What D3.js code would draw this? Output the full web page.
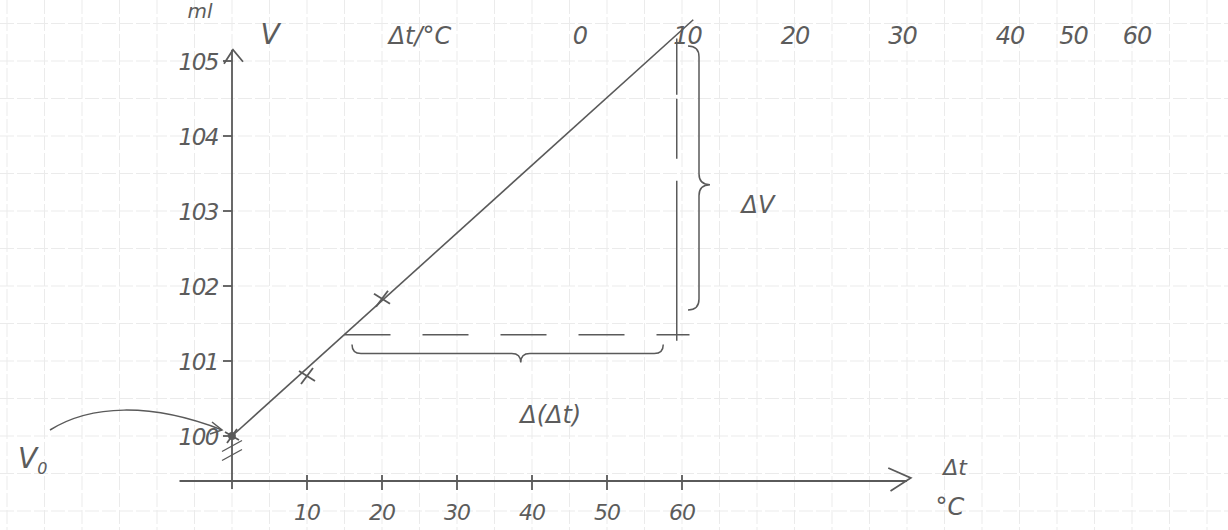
<!DOCTYPE html>
<html>
<head>
<meta charset="utf-8">
<script src="https://cdn.jsdelivr.net/npm/d3@7"></script>
<style>
  body { margin: 0; background: #fff; }
  svg text { font-family: "DejaVu Sans", sans-serif; font-weight: 200; font-style: italic; fill: #5c5c5c; }
</style>
</head>
<body>
<svg id="chart"></svg>
<script>
// --- Data ---
const xTicks = [10, 20, 30, 40, 50, 60];          // Δt in °C
const yTicks = [100, 101, 102, 103, 104, 105];    // V in ml
const measured = [
  { t: 0, V: 100 },
  { t: 10, V: 100.8 },
  { t: 20, V: 101.83 }
];
const fitLine = [{ t: 0, V: 100 }, { t: 61.5, V: 105.55 }];
const topLabels = [0, 10, 20, 30, 40, 50, 60];
// annotation values (data units)
const dashLevel = { V: 101.35, from: 15, to: 61 };
const dropLine = { t: 59.3, from: 101.27, to: 105.3 };
const braceV = { t: 60.8, from: 101.68, to: 105.2, tip: 103.35 };
const braceT = { V: 101.22, from: 16, to: 57.5, tip: 38.5 };

const width = 1228, height = 530;
const svg = d3.select("#chart").attr("width", width).attr("height", height);

// --- Scales ---
const x = d3.scaleLinear().domain([0, 60]).range([232, 682]);
const y = d3.scaleLinear().domain([100, 105]).range([436, 61]);
const xAxisV = 99.4; // broken axis, x axis sits below 100
const topX = d3.scaleLinear().domain([0, 40, 60]).range([580, 1010, 1137]);

const ink = "#5a5a5a";

// --- Grid paper ---
const grid = svg.append("g").attr("stroke", "#ebebeb").attr("stroke-width", 1)
  .attr("stroke-dasharray", "14,3");
grid.selectAll(".gx").data(d3.range(-30, 135, 5)).join("line")
  .attr("x1", d => x(d)).attr("x2", d => x(d)).attr("y1", 0).attr("y2", height);
grid.selectAll(".gy").data(d3.range(98.5, 106.5, 0.5)).join("line")
  .attr("y1", d => y(d)).attr("y2", d => y(d)).attr("x1", 0).attr("x2", width);

// --- Axes ---
const axes = svg.append("g").attr("stroke", ink).attr("stroke-width", 1.8).attr("fill", "none");
axes.append("line").attr("x1", x(0)).attr("x2", x(0)).attr("y1", y(xAxisV) + 8).attr("y2", y(105.15));
axes.append("path").attr("d", `M${x(0) - 8},${y(105.15) + 14} L${x(0) + 1},${y(105.15)} L${x(0) + 11},${y(105.15) + 12}`);
axes.append("line").attr("x1", x(-7)).attr("x2", x(90)).attr("y1", y(xAxisV)).attr("y2", y(xAxisV));
axes.append("path").attr("d", `M${x(87.5)},${y(xAxisV) - 13} L${x(90.5)},${y(xAxisV) - 3} L${x(87.8)},${y(xAxisV) + 10}`);

// break marks on the V axis
[99.74, 99.86].forEach(v => {
  axes.append("line").attr("stroke-width", 1.4)
    .attr("x1", x(0) - 10).attr("y1", y(v) + 5).attr("x2", x(0) + 10).attr("y2", y(v) - 6);
});

// y ticks
axes.selectAll(".yt").data(yTicks).join("line")
  .attr("x1", x(0) - 9).attr("x2", x(0)).attr("y1", d => y(d)).attr("y2", d => y(d));
svg.selectAll(".yl").data(yTicks).join("text")
  .attr("x", x(0) - 14).attr("y", d => y(d) + 9).attr("text-anchor", "end")
  .attr("font-size", 23).attr("letter-spacing", -1.5).text(d => d);

// x ticks
axes.selectAll(".xt").data(xTicks).join("line")
  .attr("x1", d => x(d)).attr("x2", d => x(d)).attr("y1", y(xAxisV) - 6).attr("y2", y(xAxisV) + 9);
svg.selectAll(".xl").data(xTicks).join("text")
  .attr("x", d => x(d)).attr("y", y(xAxisV) + 39).attr("text-anchor", "middle")
  .attr("font-size", 22).attr("letter-spacing", -1).text(d => d);

// axis titles
svg.append("text").attr("x", 200).attr("y", 18).attr("font-size", 20).attr("text-anchor", "middle").text("ml");
svg.append("text").attr("x", 270).attr("y", 44).attr("font-size", 28).attr("text-anchor", "middle").text("V");
svg.append("text").attr("x", 955).attr("y", y(xAxisV) - 6).attr("font-size", 22).attr("text-anchor", "middle").text("Δt");
svg.append("text").attr("x", 950).attr("y", y(xAxisV) + 34).attr("font-size", 24).attr("text-anchor", "middle").text("°C");

// top row Δt/°C
svg.append("text").attr("x", 420).attr("y", 44).attr("font-size", 24).attr("text-anchor", "middle").text("Δt/°C");
svg.selectAll(".tl").data(topLabels).join("text")
  .attr("x", d => topX(d)).attr("y", 44).attr("text-anchor", "middle")
  .attr("font-size", 24).attr("letter-spacing", -1).text(d => d);

// --- Fitted line ---
const line = d3.line().x(d => x(d.t)).y(d => y(d.V));
svg.append("path").datum(fitLine).attr("d", line)
  .attr("stroke", ink).attr("stroke-width", 1.6).attr("fill", "none");

// --- Measured points (crosses) ---
const cross = svg.append("g").attr("stroke", ink).attr("stroke-width", 1.8);
measured.forEach((d, i) => {
  const s = i === 0 ? 7 : 8;
  cross.append("line").attr("x1", x(d.t) - s).attr("y1", y(d.V) - s + 3).attr("x2", x(d.t) + s).attr("y2", y(d.V) + s - 3);
  cross.append("line").attr("x1", x(d.t) - s + 2).attr("y1", y(d.V) + s).attr("x2", x(d.t) + s - 2).attr("y2", y(d.V) - s);
});
cross.append("circle").attr("cx", x(0)).attr("cy", y(100)).attr("r", 3).attr("fill", ink);

// --- Helper lines ---
svg.append("line")
  .attr("x1", x(dashLevel.from)).attr("x2", x(dashLevel.to))
  .attr("y1", y(dashLevel.V)).attr("y2", y(dashLevel.V))
  .attr("stroke", ink).attr("stroke-width", 1.6).attr("stroke-dasharray", "46,32");
svg.append("line")
  .attr("x1", x(dropLine.t)).attr("x2", x(dropLine.t))
  .attr("y1", y(dropLine.from)).attr("y2", y(dropLine.to))
  .attr("stroke", ink).attr("stroke-width", 1.5).attr("stroke-dasharray", "160,22,60,4");

// --- Braces ---
function vBrace(px, ya, yb, ym, w) {
  const h = w / 2;
  return `M${px},${ya} Q${px + h},${ya} ${px + h},${ya + h} L${px + h},${ym - h} Q${px + h},${ym} ${px + w},${ym}` +
    ` Q${px + h},${ym} ${px + h},${ym + h} L${px + h},${yb - h} Q${px + h},${yb} ${px},${yb}`;
}
function hBrace(py, xa, xb, xm, w) {
  const h = w / 2;
  return `M${xa},${py} Q${xa},${py + h} ${xa + h},${py + h} L${xm - h},${py + h} Q${xm},${py + h} ${xm},${py + w}` +
    ` Q${xm},${py + h} ${xm + h},${py + h} L${xb - h},${py + h} Q${xb},${py + h} ${xb},${py}`;
}
svg.append("path")
  .attr("d", vBrace(x(braceV.t), y(braceV.to), y(braceV.from), y(braceV.tip), 22))
  .attr("stroke", ink).attr("stroke-width", 1.5).attr("fill", "none");
svg.append("path")
  .attr("d", hBrace(y(braceT.V), x(braceT.from), x(braceT.to), x(braceT.tip), 18))
  .attr("stroke", ink).attr("stroke-width", 1.5).attr("fill", "none");

svg.append("text").attr("x", x(braceV.t) + 70).attr("y", y(braceV.tip) + 28)
  .attr("font-size", 24).attr("text-anchor", "middle").text("ΔV");
svg.append("text").attr("x", x(braceT.tip) + 30).attr("y", y(braceT.V) + 78)
  .attr("font-size", 24).attr("text-anchor", "middle").text("Δ(Δt)");

// --- V0 label with curved arrow ---
const v0 = svg.append("text").attr("x", 18).attr("y", 468).attr("font-size", 28);
v0.append("tspan").text("V");
v0.append("tspan").attr("font-size", 16).attr("dy", 6).text("0");
svg.append("path")
  .attr("d", `M50,430 C90,405 150,402 ${x(0) - 10},${y(100) - 6}`)
  .attr("stroke", ink).attr("stroke-width", 1.5).attr("fill", "none");
svg.append("path")
  .attr("d", `M${x(0) - 20},${y(100) - 14} L${x(0) - 10},${y(100) - 6} L${x(0) - 22},${y(100) - 2}`)
  .attr("stroke", ink).attr("stroke-width", 1.5).attr("fill", "none");
</script>
</body>
</html>
